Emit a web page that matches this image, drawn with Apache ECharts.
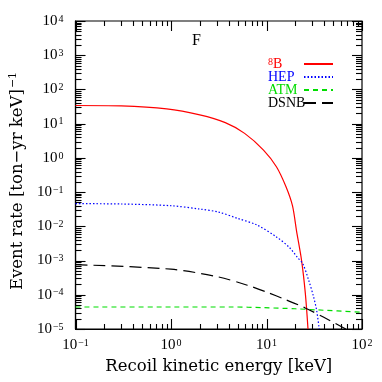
<!DOCTYPE html>
<html>
<head>
<meta charset="utf-8">
<script src="https://cdn.jsdelivr.net/npm/echarts@6/dist/echarts.min.js"></script>
<style>
  html, body { margin: 0; padding: 0; background: #fff; }
  #chart { width: 382px; height: 382px; }
</style>
</head>
<body>
<div id="chart"></div>
<script>
// 各成分的反冲能谱
const b8Energy = [0.1, 0.3, 0.9, 2, 3.7, 5.9, 9.3, 12.7, 16, 18.7, 20.6, 23.3, 25.5, 27.2];
const b8Rate = [34, 33, 27, 18, 10.7, 5.2, 1.69, 0.55, 0.143, 0.04, 0.0075, 1e-3, 1.1e-4, 1e-5];

const hepEnergy = [0.1, 0.3, 1, 2, 3.16, 5, 7.9, 12.6, 17.4, 21, 24, 27.6, 31, 33.5, 35.6];
const hepRate = [0.046, 0.045, 0.040, 0.032, 0.026, 0.017, 0.011, 0.005, 0.0024, 0.00125, 8e-4, 2.7e-4, 9e-5, 3.5e-5, 1e-5];

const atmEnergy = [0.1, 1, 4.4, 9.3, 20, 34.8, 100];
const atmRate = [4.4e-5, 4.4e-5, 4.4e-5, 4.2e-5, 3.9e-5, 3.6e-5, 3.1e-5];

const dsnbEnergy = [0.1, 1, 3.16, 6.3, 10, 15.8, 25.1, 39.8, 67.6];
const dsnbRate = [7.6e-4, 5.6e-4, 3.3e-4, 1.9e-4, 1.2e-4, 7.2e-5, 4.2e-5, 2.2e-5, 1e-5];

const seriesNames = ['8B', 'HEP', 'ATM', 'DSNB'];
const seriesColors = ['#ff0000', '#0000ff', '#00dd00', '#000000'];

// 刻度（十进制主刻度 + 2..9 次刻度）
const xDecades = [0.1, 1, 10, 100];
const yDecades = [1e-5, 1e-4, 1e-3, 1e-2, 1e-1, 1, 10, 100, 1e3, 1e4];
const minorSteps = [2, 3, 4, 5, 6, 7, 8, 9];

const xMin = 0.1, xMax = 100, yMin = 1e-5, yMax = 1e4;
const titleFont = 'DejaVu Serif';
const labelFont = 'Liberation Serif';

function pow10Label(v) {
  const e = Math.round(Math.log10(v));
  return '10{sup|' + String(e).replace('-', '\u2212') + '}';
}

function supRich() {
  return { sup: { fontSize: 10, lineHeight: 10, verticalAlign: 'top', padding: [0, 0, 5, 1], fontFamily: labelFont, color: '#000' } };
}

function pairs(xs, ys) {
  return xs.map((x, i) => [x, ys[i]]);
}

function tickList(decades, major, minor) {
  let out = [];
  decades.forEach((d, i) => {
    out.push([d, major]);
    if (i < decades.length - 1) minorSteps.forEach(k => out.push([d * k, minor]));
  });
  return out;
}

// side: 0 = 下/左, 1 = 上/右
const xTicks = [];
tickList(xDecades, 10, 5).forEach(t => { xTicks.push([t[0], yMin, t[1], 0]); xTicks.push([t[0], yMax, t[1], 1]); });
const yTicks = [];
tickList(yDecades, 10, 6).forEach(t => { yTicks.push([xMin, t[0], t[1], 0]); yTicks.push([xMax, t[0], t[1], 1]); });

function px(v) { return Math.round(v) + 0.5; }

function renderXTick(params, api) {
  const p = api.coord([api.value(0), api.value(1)]);
  const len = api.value(2), dir = api.value(3) === 0 ? -1 : 1;
  const x = px(p[0]);
  return { type: 'line', shape: { x1: x, y1: p[1], x2: x, y2: p[1] + dir * len },
    style: { stroke: '#000', lineWidth: 1.1 } };
}

function renderYTick(params, api) {
  const p = api.coord([api.value(0), api.value(1)]);
  const len = api.value(2), dir = api.value(3) === 0 ? 1 : -1;
  const y = px(p[1]);
  return { type: 'line', shape: { x1: p[0], y1: y, x2: p[0] + dir * len, y2: y },
    style: { stroke: '#000', lineWidth: 1.1 } };
}

let chart = echarts.init(document.getElementById('chart'));
chart.setOption({
  animation: false,
  backgroundColor: '#fff',
  title: { text: 'F', left: 187, top: 28, textStyle: { fontFamily: labelFont, fontSize: 16, fontWeight: 'normal', color: '#000' } },
  grid: { left: 65, right: 20, top: 21, bottom: 53, show: true, borderColor: '#000', borderWidth: 1.2, backgroundColor: 'transparent' },
  legend: {
    orient: 'vertical', left: 263, top: 52, align: 'right',
    itemWidth: 29, itemHeight: 8, itemGap: -1,
    itemStyle: { opacity: 0 },
    textStyle: { fontFamily: labelFont, fontSize: 14, lineHeight: 13 },
    formatter: name => name === '8B' ? '{sup|8}{tb|B}' : '{t|' + name + '}',
    data: seriesNames.map((name, i) => ({
      name: name,
      textStyle: {
        color: seriesColors[i],
        rich: {
          sup: { fontSize: 10, verticalAlign: 'top', align: 'left', color: seriesColors[i], fontFamily: labelFont, lineHeight: 11 },
          t: { width: 31, align: 'left', fontSize: 14, color: seriesColors[i], fontFamily: labelFont, lineHeight: 13 },
          tb: { width: 26, align: 'left', fontSize: 14, color: seriesColors[i], fontFamily: labelFont, lineHeight: 13 }
        }
      }
    }))
  },
  xAxis: {
    type: 'log', logBase: 10, min: xMin, max: xMax,
    name: 'Recoil kinetic energy [keV]', nameLocation: 'middle', nameGap: 29,
    nameTextStyle: { fontFamily: titleFont, fontSize: 16.5, color: '#000' },
    axisLine: { show: true, onZero: false, lineStyle: { color: '#000', width: 1.2 } },
    axisTick: { show: false }, splitLine: { show: false },
    axisLabel: { formatter: pow10Label, fontFamily: labelFont, fontSize: 15, lineHeight: 14, color: '#000', margin: 9,
      hideOverlap: false, rich: supRich() }
  },
  yAxis: {
    type: 'log', logBase: 10, min: yMin, max: yMax, splitNumber: 9,
    name: 'Event rate [ton\u2212yr keV]{sup|\u22121}', nameLocation: 'middle', nameGap: 40,
    nameTextStyle: { fontFamily: titleFont, fontSize: 16.5, color: '#000', padding: [0, 12, 0, 0],
      rich: { sup: { fontSize: 11, verticalAlign: 'top', padding: [0, 0, 8, 1], fontFamily: titleFont, color: '#000' } } },
    axisLine: { show: true, onZero: false, lineStyle: { color: '#000', width: 1.2 } },
    axisTick: { show: false }, splitLine: { show: false },
    axisLabel: { formatter: pow10Label, fontFamily: labelFont, fontSize: 15, lineHeight: 14, color: '#000', margin: 12,
      hideOverlap: false, rich: supRich() }
  },
  series: [
    { name: '8B', type: 'line', smooth: 0.3, symbol: 'none', data: pairs(b8Energy, b8Rate),
      lineStyle: { color: seriesColors[0], width: 1.2 }, itemStyle: { color: seriesColors[0] } },
    { name: 'HEP', type: 'line', smooth: 0.3, symbol: 'none', data: pairs(hepEnergy, hepRate),
      lineStyle: { color: seriesColors[1], width: 1.2, type: [1.5, 2] }, itemStyle: { color: seriesColors[1] } },
    { name: 'ATM', type: 'line', smooth: 0.3, symbol: 'none', data: pairs(atmEnergy, atmRate),
      lineStyle: { color: seriesColors[2], width: 1.2, type: [5, 4] }, itemStyle: { color: seriesColors[2] } },
    { name: 'DSNB', type: 'line', smooth: 0.3, symbol: 'none', data: pairs(dsnbEnergy, dsnbRate),
      lineStyle: { color: seriesColors[3], width: 1.2, type: [12, 6] }, itemStyle: { color: seriesColors[3] } },
    { type: 'custom', name: 'xticks', silent: true, renderItem: renderXTick,
      encode: { x: 0, y: 1 }, data: xTicks, z: 5 },
    { type: 'custom', name: 'yticks', silent: true, renderItem: renderYTick,
      encode: { x: 0, y: 1 }, data: yTicks, z: 5 }
  ]
});
</script>
</body>
</html>
